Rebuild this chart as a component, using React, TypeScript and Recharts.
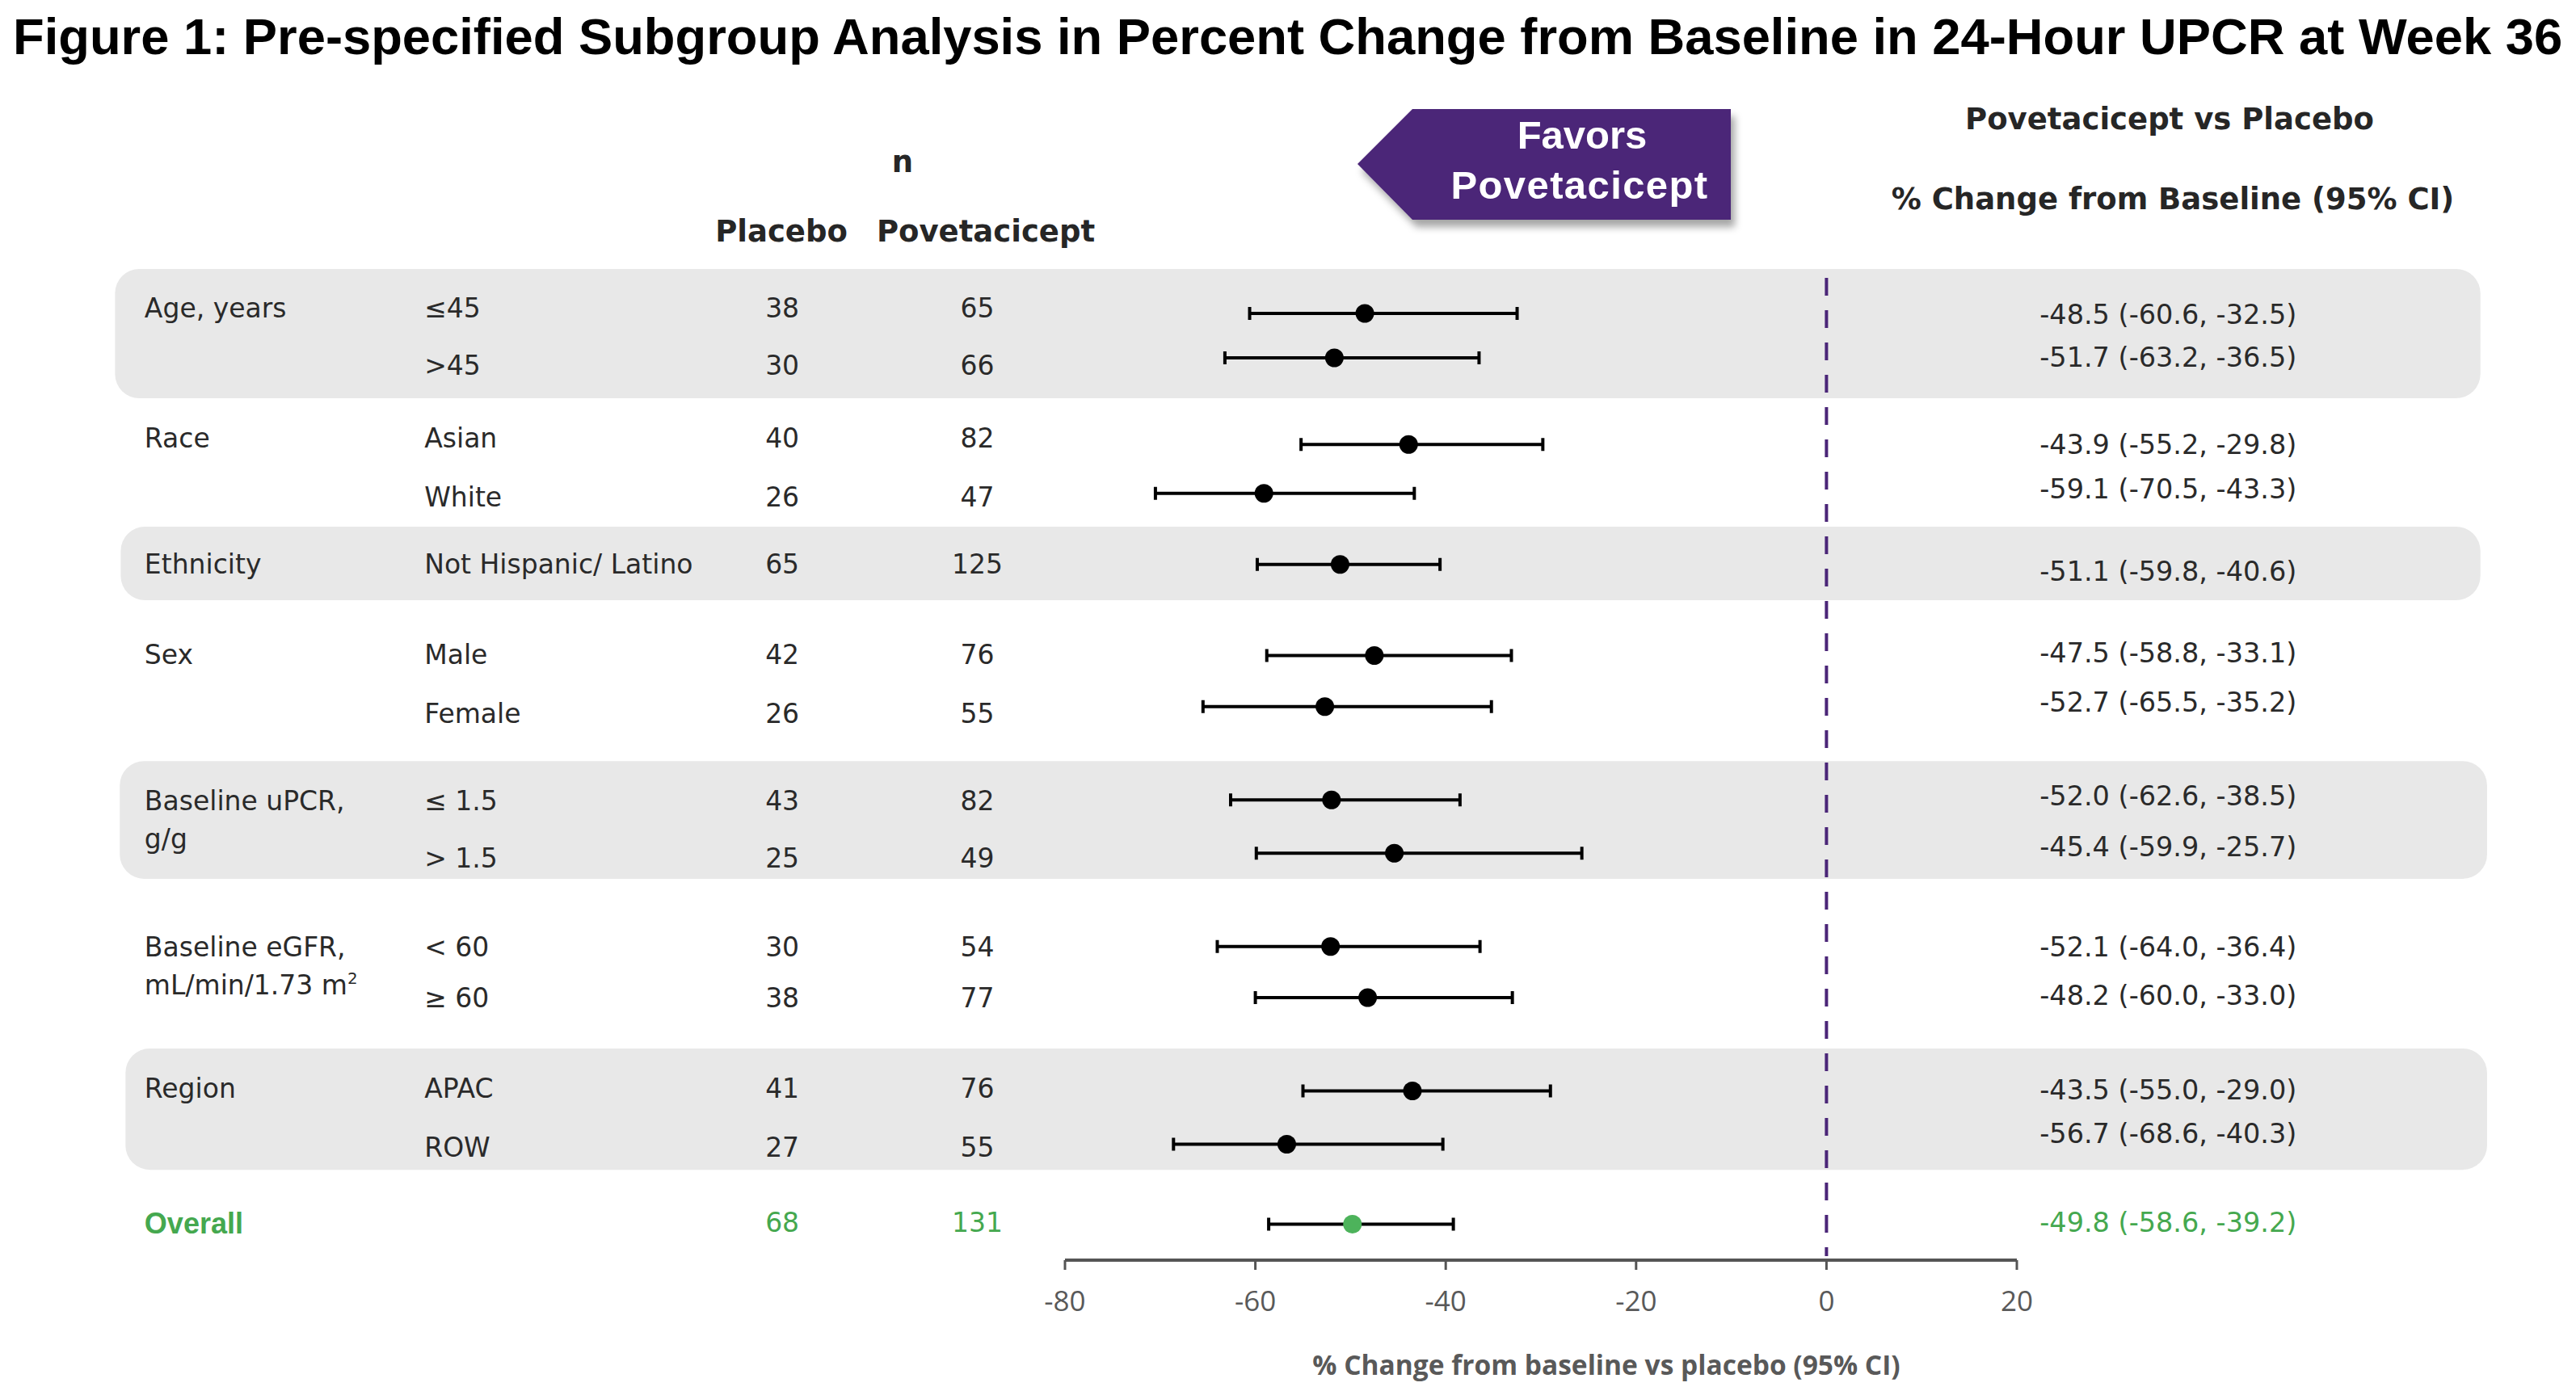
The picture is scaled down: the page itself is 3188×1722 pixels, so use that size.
import React from "react";
import {
  ScatterChart,
  Scatter,
  XAxis,
  YAxis,
  ErrorBar,
  ReferenceArea,
  ReferenceLine,
  Customized,
} from "recharts";

// ---------------- DATA ----------------
const groupNames = [
  "Age, years",
  "Race",
  "Ethnicity",
  "Sex",
  "Baseline uPCR,|g/g",
  "Baseline eGFR,|mL/min/1.73 m²",
  "Region",
  "Overall",
];
const rowGroup = [0, 0, 1, 1, 2, 3, 3, 4, 4, 5, 5, 6, 6, 7];
const subgroupLabels = [
  "≤45",
  ">45",
  "Asian",
  "White",
  "Not Hispanic/ Latino",
  "Male",
  "Female",
  "≤ 1.5",
  "> 1.5",
  "< 60",
  "≥ 60",
  "APAC",
  "ROW",
  "",
];
const nPlacebo = [38, 30, 40, 26, 65, 42, 26, 43, 25, 30, 38, 41, 27, 68];
const nPovetacicept = [65, 66, 82, 47, 125, 76, 55, 82, 49, 54, 77, 76, 55, 131];
const estimate = [-48.5, -51.7, -43.9, -59.1, -51.1, -47.5, -52.7, -52.0, -45.4, -52.1, -48.2, -43.5, -56.7, -49.8];
const ciLower = [-60.6, -63.2, -55.2, -70.5, -59.8, -58.8, -65.5, -62.6, -59.9, -64.0, -60.0, -55.0, -68.6, -58.6];
const ciUpper = [-32.5, -36.5, -29.8, -43.3, -40.6, -33.1, -35.2, -38.5, -25.7, -36.4, -33.0, -29.0, -40.3, -39.2];
const xTicks = [-80, -60, -40, -20, 0, 20];

// ---------------- LAYOUT ----------------
const W = 3172;
const H = 1706;
const PX_PER_UNIT = 11.78;
const AXIS_LEFT_PX = 1310;
const X_MIN = -80 - AXIS_LEFT_PX / PX_PER_UNIT;
const X_MAX = X_MIN + W / PX_PER_UNIT;
const SLOT_PX = 27.5;
const FIRST_ROW_PX = 380;
const AXIS_Y_PX = 1552;
const Y_MIN = -FIRST_ROW_PX / SLOT_PX;
const Y_MAX = (AXIS_Y_PX - FIRST_ROW_PX) / SLOT_PX;

// row positions (in slot units) for markers, left-hand labels and right-hand values
const ROW_SLOT = [0, 2, 5.9, 8.1, 11.3, 15.4, 17.7, 21.9, 24.3, 28.5, 30.8, 35.0, 37.4, 41.0];
const LABEL_SLOT = [-0.25, 2.33, 5.6, 8.25, 11.27, 15.35, 18.0, 21.93, 24.5, 28.5, 30.8, 34.87, 37.53, 40.93];
const VALUE_SLOT = [0.04, 1.96, 5.9, 7.9, 11.58, 15.27, 17.5, 21.7, 24.0, 28.5, 30.7, 34.95, 36.9, 40.9];
const BANDS = [
  { x1: -179.8, x2: 68.7, y1: -2.0, y2: 3.82 },
  { x1: -179.2, x2: 68.7, y1: 9.6, y2: 12.91 },
  { x1: -179.3, x2: 69.4, y1: 20.15, y2: 25.45 },
  { x1: -178.7, x2: 69.4, y1: 33.09, y2: 38.55 },
];
const COL_GROUP = -176.7;
const COL_SUB = -147.3;
const COL_PLACEBO = -109.7;
const COL_POVET = -89.2;
const COL_VALUE = 35.9;
const DASH_TOP = -1.6;
const DASH_BOTTOM = 42.44;

const GREEN = "#45A84F";
const GREEN_DOT = "#4DB35B";
const PURPLE = "#4B2678";
const BODY_FONT = "'DejaVu Sans', sans-serif";
const TEXT = "#2a2a2a";

const lastIdx = estimate.length - 1;

const pointRows = estimate.map((est, i) => ({
  x: est,
  y: ROW_SLOT[i],
  err: [est - ciLower[i], ciUpper[i] - est],
  overall: i === lastIdx,
}));

const groupRows = groupNames.map((name, g) => ({
  x: COL_GROUP,
  y: LABEL_SLOT[rowGroup.indexOf(g)],
  label: name,
  overall: g === groupNames.length - 1,
  isGroup: true,
}));
const subRows = subgroupLabels.map((s, i) => ({ x: COL_SUB, y: LABEL_SLOT[i], label: s, overall: i === lastIdx }));
const placeboRows = nPlacebo.map((n, i) => ({ x: COL_PLACEBO, y: LABEL_SLOT[i], label: String(n), overall: i === lastIdx }));
const povetRows = nPovetacicept.map((n, i) => ({ x: COL_POVET, y: LABEL_SLOT[i], label: String(n), overall: i === lastIdx }));
const valueRows = estimate.map((est, i) => ({
  x: COL_VALUE,
  y: VALUE_SLOT[i],
  label: `${est.toFixed(1)} (${ciLower[i].toFixed(1)}, ${ciUpper[i].toFixed(1)})`,
  overall: i === lastIdx,
}));

const makeText = (anchor: string, size: number) => (p: any) => {
  const pl = p.payload || {};
  const lines: string[] = String(pl.label || "").split("|");
  const isOverallGroup = pl.overall && pl.isGroup;
  return (
    <text
      x={p.cx}
      y={p.cy}
      textAnchor={anchor}
      fontFamily={isOverallGroup ? "'Liberation Sans', Arial, sans-serif" : BODY_FONT}
      fontWeight={isOverallGroup ? 700 : 400}
      fontSize={isOverallGroup ? 36 : size}
      fill={pl.overall ? GREEN : TEXT}
    >
      {lines.map((ln, k) => {
        const m = ln.match(/^(.*m)²$/);
        return (
          <tspan key={k} x={p.cx} dy={k === 0 ? "0.36em" : 47}>
            {m ? (
              <>
                {m[1]}
                <tspan fontSize={size * 0.6} dy={-13}>2</tspan>
              </>
            ) : (
              ln
            )}
          </tspan>
        );
      })}
    </text>
  );
};

const dotShape = (p: any) => (
  <circle cx={p.cx} cy={p.cy} r={11.5} fill={p.payload && p.payload.overall ? GREEN_DOT : "#000"} />
);
const noShape = () => <g />;

const Tick = (p: any) => (
  <text
    x={p.x}
    y={p.y + 38}
    dy="0.36em"
    textAnchor="middle"
    fontFamily="'Open Sans', sans-serif"
    fontSize={35}
    fill="#595959"
  >
    {p.payload.value}
  </text>
);

const Header = () => (
  <g>
    <defs>
      <filter id="arrowShadow" x="-20%" y="-20%" width="140%" height="160%">
        <feDropShadow dx="5" dy="9" stdDeviation="5" floodColor="#000" floodOpacity="0.35" />
      </filter>
    </defs>
    <text
      x={8}
      y={59}
      fontFamily="'Liberation Sans', Arial, sans-serif"
      fontWeight={700}
      fontSize={63.3}
      fill="#000"
    >
      Figure 1: Pre-specified Subgroup Analysis in Percent Change from Baseline in 24-Hour UPCR at Week 36
    </text>
    <polygon
      points="1672,195 1740,127 2134,127 2134,264 1740,264"
      fill={PURPLE}
      filter="url(#arrowShadow)"
    />
    <text x={1950} y={158} dy="0.36em" textAnchor="middle" fontFamily="'Liberation Sans', Arial, sans-serif" fontWeight={700} fontSize={49} fill="#fff">
      Favors
    </text>
    <text x={1947} y={220} dy="0.36em" textAnchor="middle" fontFamily="'Liberation Sans', Arial, sans-serif" fontWeight={700} fontSize={49} letterSpacing={1.4} fill="#fff">
      Povetacicept
    </text>
    <g fontFamily={BODY_FONT} fontWeight={700} fontSize={37} fill="#262626" textAnchor="middle">
      <text x={1109} y={192} dy="0.36em">n</text>
      <text x={959} y={278} dy="0.36em">Placebo</text>
      <text x={1212} y={278} dy="0.36em">Povetacicept</text>
      <text x={2677} y={139} dy="0.36em">Povetacicept vs Placebo</text>
      <text x={2681} y={238} dy="0.36em">% Change from Baseline (95% CI)</text>
    </g>
    <text
      x={1980}
      y={1682}
      dy="0.36em"
      textAnchor="middle"
      fontFamily="'Open Sans', sans-serif"
      fontWeight={700}
      fontSize={33.5}
      fill="#595959"
    >
      % Change from baseline vs placebo (95% CI)
    </text>
  </g>
);

export default function App() {
  return (
    <ScatterChart width={W} height={H} margin={{ top: 0, right: 0, bottom: 0, left: 0 }}>
      {BANDS.map((b, i) => (
        <ReferenceArea
          key={i}
          x1={b.x1}
          x2={b.x2}
          y1={b.y1}
          y2={b.y2}
          ifOverflow="visible"
          shape={(p: any) => (
            <rect x={p.x} y={p.y} width={p.width} height={p.height} rx={30} ry={30} fill="#E8E8E8" />
          )}
        />
      ))}
      <XAxis
        type="number"
        dataKey="x"
        domain={[X_MIN, X_MAX]}
        allowDataOverflow
        ticks={xTicks}
        interval={0}
        height={H - AXIS_Y_PX}
        axisLine={false}
        tickSize={12}
        tickMargin={0}
        tickLine={{ stroke: "#555", strokeWidth: 3 }}
        tick={<Tick />}
      />
      <YAxis type="number" dataKey="y" domain={[Y_MIN, Y_MAX]} allowDataOverflow reversed hide />
      <ReferenceLine
        segment={[
          { x: -80, y: Y_MAX },
          { x: 20, y: Y_MAX },
        ]}
        stroke="#555"
        strokeWidth={4}
        ifOverflow="visible"
      />
      <ReferenceLine
        segment={[
          { x: 0, y: DASH_TOP },
          { x: 0, y: DASH_BOTTOM },
        ]}
        stroke={PURPLE}
        strokeWidth={4}
        strokeDasharray="22 18"
        ifOverflow="visible"
      />
      <Scatter data={pointRows} shape={noShape} isAnimationActive={false}>
        <ErrorBar dataKey="err" direction="x" width={8} strokeWidth={4} stroke="#000" />
      </Scatter>
      <Scatter data={pointRows} shape={dotShape} isAnimationActive={false} />
      <Scatter data={groupRows} shape={makeText("start", 33)} isAnimationActive={false} />
      <Scatter data={subRows} shape={makeText("start", 33)} isAnimationActive={false} />
      <Scatter data={placeboRows} shape={makeText("middle", 33)} isAnimationActive={false} />
      <Scatter data={povetRows} shape={makeText("middle", 33)} isAnimationActive={false} />
      <Scatter data={valueRows} shape={makeText("middle", 33.5)} isAnimationActive={false} />
      <Customized component={<Header />} />
    </ScatterChart>
  );
}
